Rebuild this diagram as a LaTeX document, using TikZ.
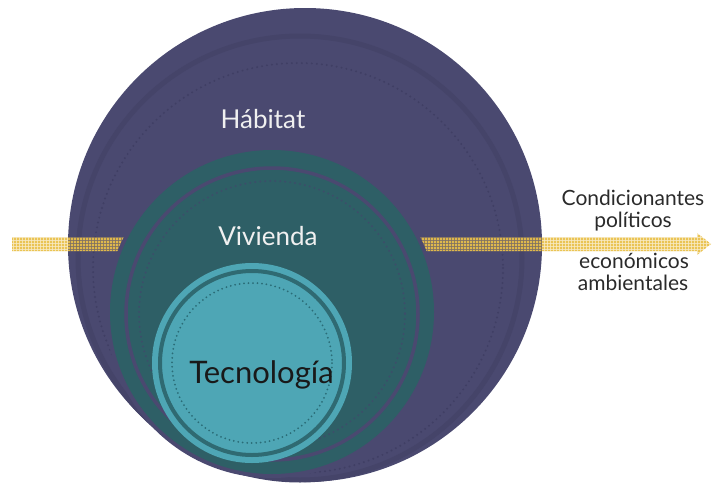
\documentclass[tikz,border=0pt]{standalone}
\usepackage{fontspec}
\setmainfont{Lato}
\usetikzlibrary{patterns}
\pgfdeclarepatternformonly{bigdots}{\pgfqpoint{-1.5pt}{-1.5pt}}{\pgfqpoint{1.5pt}{1.5pt}}{\pgfqpoint{3pt}{3pt}}{\pgfpathcircle{\pgfqpoint{0pt}{0pt}}{1.3pt}\pgfusepath{fill}}
\definecolor{habitat}{HTML}{4A4970}
\definecolor{habdark}{HTML}{454469}
\definecolor{habdots}{HTML}{403F64}
\definecolor{vivienda}{HTML}{2E5F66}
\definecolor{vivdots}{HTML}{3C4E6A}
\definecolor{tecno}{HTML}{4EA6B5}
\definecolor{tecring}{HTML}{2F6A72}
\definecolor{tecdots}{HTML}{2A6C77}
\definecolor{arrowgold}{HTML}{E9C04A}
\definecolor{textdark}{HTML}{2A2A2A}
\begin{document}
\begin{tikzpicture}[x=1pt,y=-1pt,
  lightlbl/.style={font=\fontsize{26}{30}\selectfont, text=white!94!black, inner sep=0pt, anchor=base},
  darklbl/.style={font=\fontsize{31}{35}\selectfont, text=black!90, inner sep=0pt, anchor=base},
  sidelbl/.style={font=\fontsize{21}{25}\selectfont, text=textdark, inner sep=0pt, anchor=base},
  dotring/.style={line width=2.2pt, line cap=round, dash pattern=on 0pt off 5pt},
  arrowband/.style={pattern=bigdots, pattern color=arrowgold}]
\useasboundingbox (0,0) rectangle (712,485);
% Habitat circle
\fill[habitat] (305,245) circle (237);
\draw[habdark, line width=5pt] (300,258) circle (222);
\draw[habdots, dotring] (298,268) circle (205);
% arrow
\fill[arrowgold, opacity=0.35] (12,237) -- (697,237) -- (697,233) -- (711,244) -- (697,255) -- (697,251) -- (12,251) -- cycle;
\fill[arrowband] (12,237) -- (697,237) -- (697,233) -- (711,244) -- (697,255) -- (697,251) -- (12,251) -- cycle;
% cover ring around Vivienda
\fill[habitat] (272,312) circle (166);
% Vivienda circle
\fill[vivienda] (272,312) circle (162);
\draw[habitat, line width=3.5pt] (272,314) circle (146);
\draw[vivdots, dotring] (272,314) circle (133);
% Tecnologia circle
\fill[tecno] (252,363) circle (100);
\draw[tecring, line width=4pt] (252,363) circle (92);
\draw[tecdots, dotring, line width=2pt, dash pattern=on 0pt off 4.5pt] (252,363) circle (80);
% labels
\node[lightlbl] (hab) at (263,128) {Hábitat};
\node[lightlbl] (viv) at (268,245) {Vivienda};
\node[darklbl] (tec) at (261.5,383) {Tecnología};
\node[sidelbl] (c1) at (633,205) {Condicionantes};
\node[sidelbl] (c2) at (633,227) {políticos};
\node[sidelbl] (c3) at (634,268) {económicos};
\node[sidelbl] (c4) at (633,290) {ambientales};
\end{tikzpicture}
\end{document}
